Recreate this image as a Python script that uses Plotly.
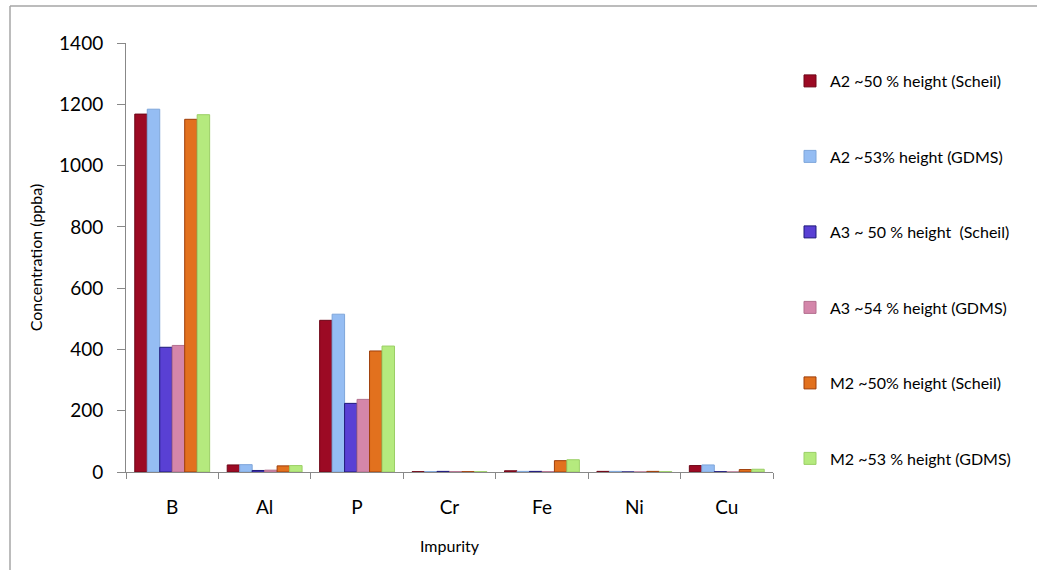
import plotly.graph_objects as go

categories = ["B", "Al", "P", "Cr", "Fe", "Ni", "Cu"]

series_names = [
    "A2 ~50 % height (Scheil)",
    "A2 ~53% height (GDMS)",
    "A3 ~ 50 % height  (Scheil)",
    "A3 ~54 % height (GDMS)",
    "M2 ~50% height (Scheil)",
    "M2 ~53 % height (GDMS)",
]

a2_scheil = [1168, 23, 495, 1, 4, 2, 21]
a2_gdms = [1184, 24, 515, 1, 2, 2, 23]
a3_scheil = [407, 5, 224, 2, 2, 0, 1]
a3_gdms = [413, 6, 237, 1, 1, 0, 0]
m2_scheil = [1151, 20, 395, 1, 37, 2, 8]
m2_gdms = [1166, 21, 411, 1, 40, 1, 9]

fill_colors = ["#9C0A24", "#95BDF3", "#5940D4", "#D486AA", "#E2711E", "#B5EA7E"]
line_colors = ["#6E0617", "#7FA6DA", "#1F1A7A", "#B36F8E", "#9E3E0A", "#9BCF66"]

all_series = [a2_scheil, a2_gdms, a3_scheil, a3_gdms, m2_scheil, m2_gdms]

fig = go.Figure()
for i, (name, vals) in enumerate(zip(series_names, all_series)):
    fig.add_trace(go.Bar(
        x=categories, y=vals, name=name,
        marker=dict(color=fill_colors[i], line=dict(color=line_colors[i], width=1)),
        legendgroup=f"g{i}",
    ))

W, H = 1037, 570
L, R, T, B = 126, 264, 43, 98
pw, ph = W - L - R, H - T - B

def px_x(p):
    return (p - L) / pw

def px_y(p):
    return (H - B - p) / ph

font_family = "Lato, 'Open Sans', sans-serif"

fig.update_layout(
    width=W, height=H,
    margin=dict(l=L, r=R, t=T, b=B, autoexpand=False),
    paper_bgcolor="white", plot_bgcolor="white",
    barmode="group", bargap=0.19, bargroupgap=0,
    font=dict(family=font_family, color="#000000"),
    showlegend=True,
    legend=dict(
        x=px_x(790), y=px_y(64), xanchor="left", yanchor="top",
        traceorder="grouped", tracegroupgap=51.7,
        font=dict(size=16, family=font_family, color="#000000"),
        itemwidth=30, bgcolor="rgba(0,0,0,0)",
    ),
    xaxis=dict(
        showline=True, linecolor="#888888", linewidth=1,
        ticks="outside", tickson="boundaries", ticklen=6, tickcolor="#888888",
        tickfont=dict(size=19, family=font_family),
        ticklabelstandoff=18,
        title=dict(text="Impurity", font=dict(size=16, family=font_family), standoff=24),
        showgrid=False, zeroline=False,
    ),
    yaxis=dict(
        range=[0, 1400], tickvals=[0, 200, 400, 600, 800, 1000, 1200, 1400],
        showline=True, linecolor="#888888", linewidth=1,
        ticks="outside", ticklen=8, tickcolor="#888888",
        tickfont=dict(size=19, family=font_family),
        ticklabelstandoff=10,
        title=dict(text="Concentration (ppba)", font=dict(size=16, family=font_family), standoff=12),
        showgrid=False, zeroline=False,
    ),
    shapes=[
        dict(type="line", xref="paper", yref="paper",
             x0=px_x(10), x1=px_x(1040), y0=px_y(6), y1=px_y(6),
             line=dict(color="#A6A6A6", width=1.5)),
        dict(type="line", xref="paper", yref="paper",
             x0=px_x(10), x1=px_x(10), y0=px_y(6), y1=px_y(575),
             line=dict(color="#A6A6A6", width=1.5)),
    ],
)

fig.write_html(
    "out.html",
    config={"displayModeBar": False},
    post_script="document.body.style.margin='0';document.body.style.padding='0';",
)
